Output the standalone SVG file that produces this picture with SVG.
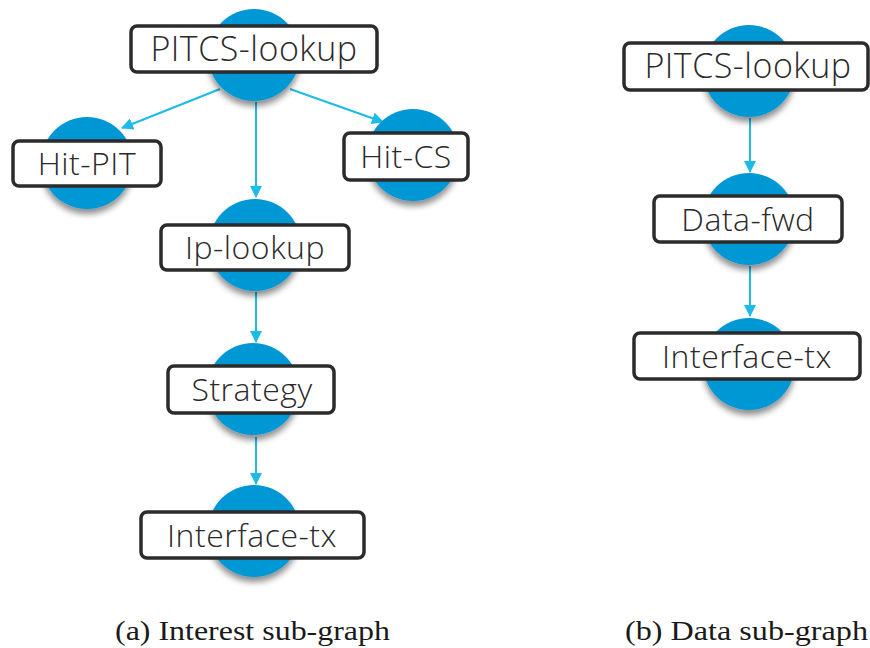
<svg xmlns="http://www.w3.org/2000/svg" width="870" height="648" viewBox="0 0 870 648">
<defs>
<filter id="sh" x="-30%" y="-30%" width="160%" height="170%">
<feGaussianBlur in="SourceAlpha" stdDeviation="3"/>
<feOffset dx="0" dy="5" result="b"/>
<feComponentTransfer><feFuncA type="linear" slope="0.45"/></feComponentTransfer>
<feMerge><feMergeNode/><feMergeNode in="SourceGraphic"/></feMerge>
</filter>
<marker id="ah" markerWidth="12" markerHeight="12" refX="11" refY="6" orient="auto" markerUnits="userSpaceOnUse">
<path d="M0,0 L12,6 L0,12 Z" fill="#1cbbe8"/>
</marker>
</defs>
<style>
.c{fill:#0097d5;filter:url(#sh)}
.b{fill:#fff;stroke:#2b2b2b;stroke-width:3.5}
.t{font-family:"Open Sans","DejaVu Sans",sans-serif;font-weight:300;fill:#2a2a2a;text-anchor:middle;font-size:32px;letter-spacing:0.5px}
.e{stroke:#1cbbe8;stroke-width:2;fill:none;marker-end:url(#ah)}
.cap{font-family:"Liberation Serif","DejaVu Serif",serif;font-size:27px;fill:#1a1a1a}
</style>
<rect width="870" height="648" fill="#fff"/>
<g id="connectors">
<line class="e" x1="220" y1="89" x2="122" y2="128"/>
<line class="e" x1="290" y1="89" x2="383" y2="122"/>
<line class="e" x1="256" y1="102" x2="256" y2="197"/>
<line class="e" x1="256" y1="292" x2="256" y2="342"/>
<line class="e" x1="256" y1="437" x2="256" y2="484"/>
<line class="e" x1="750" y1="118" x2="750" y2="172"/>
<line class="e" x1="750" y1="266" x2="750" y2="316"/>
</g>
<g id="a-pitcs"><circle class="c" cx="254" cy="55" r="46"/><rect class="b" x="131" y="26" width="246" height="46" rx="6"/><text class="t" x="254" y="61" style="font-size:34px">PITCS-lookup</text></g>
<g id="a-hitpit"><circle class="c" cx="87" cy="163" r="46"/><rect class="b" x="13" y="141" width="148" height="45" rx="6"/><text class="t" x="87" y="175">Hit-PIT</text></g>
<g id="a-hitcs"><circle class="c" cx="413" cy="155" r="46"/><rect class="b" x="344" y="133" width="124" height="47" rx="6"/><text class="t" x="406" y="168">Hit-CS</text></g>
<g id="a-iplookup"><circle class="c" cx="255" cy="245" r="46"/><rect class="b" x="161" y="225" width="188" height="45" rx="6"/><text class="t" x="255" y="259">Ip-lookup</text></g>
<g id="a-strategy"><circle class="c" cx="253" cy="389" r="46"/><rect class="b" x="168" y="366" width="166" height="47" rx="6"/><text class="t" x="252" y="401">Strategy</text></g>
<g id="a-iftx"><circle class="c" cx="254" cy="531" r="46"/><rect class="b" x="141" y="512" width="223" height="46" rx="6"/><text class="t" x="252" y="547">Interface-tx</text></g>
<g id="b-pitcs"><circle class="c" cx="749" cy="71" r="46"/><rect class="b" x="624" y="43" width="244" height="47" rx="6"/><text class="t" x="748" y="78" style="font-size:34px">PITCS-lookup</text></g>
<g id="b-datafwd"><circle class="c" cx="749" cy="219" r="46"/><rect class="b" x="654" y="196" width="188" height="46" rx="6"/><text class="t" x="748" y="231">Data-fwd</text></g>
<g id="b-iftx"><circle class="c" cx="749" cy="364" r="46"/><rect class="b" x="634" y="333" width="226" height="46" rx="6"/><text class="t" x="747" y="368">Interface-tx</text></g>
<text class="cap" x="115" y="640" textLength="275" lengthAdjust="spacingAndGlyphs">(a) Interest sub-graph</text>
<text class="cap" x="625" y="640" textLength="243" lengthAdjust="spacingAndGlyphs">(b) Data sub-graph</text>
</svg>
